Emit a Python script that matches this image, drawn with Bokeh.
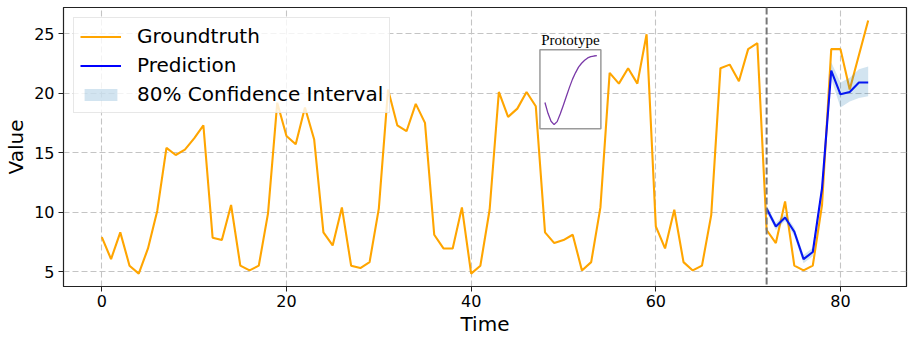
import numpy as np
from bokeh.plotting import figure
from bokeh.models import Span, Range1d, FixedTicker
from bokeh.core.properties import value
from bokeh.embed import file_html
from bokeh.resources import INLINE

# ---------------- data ----------------
time = list(range(84))
groundtruth = [7.9, 6.05, 8.3, 5.5, 4.83, 6.95, 10.1, 15.4, 14.8, 15.25,
               16.2, 17.3, 7.85, 7.65, 10.6, 5.5, 5.1, 5.5, 9.9, 19.2,
               16.4, 15.7, 18.8, 16.1, 8.3, 7.2, 10.4, 5.5, 5.3, 5.8,
               10.3, 20.3, 17.3, 16.8, 19.1, 17.5, 8.1, 6.95, 6.95, 10.4,
               4.83, 5.5, 10.2, 20.1, 18.0, 18.7, 20.1, 18.9, 8.3, 7.4,
               7.65, 8.1, 5.1, 5.8, 10.4, 21.7, 20.8, 22.1, 20.8, 24.95,
               8.8, 6.95, 10.2, 5.8, 5.1, 5.5, 9.75, 22.1, 22.4, 21.0,
               23.7, 24.2, 8.5, 7.4, 10.9, 5.5, 5.1, 5.5, 10.6, 23.7,
               23.7, 20.3, 23.2, 26.1]
pred_time = list(range(72, 84))
prediction = [10.3, 8.8, 9.55, 8.35, 6.05, 6.65, 12.0, 21.9, 19.9, 20.1, 20.9, 20.9]
ci_lower = [10.0, 8.5, 9.25, 8.0, 5.7, 6.3, 11.6, 21.2, 18.8, 19.3, 19.6, 19.75]
ci_upper = [10.6, 9.1, 9.85, 8.7, 6.4, 7.0, 12.4, 22.6, 20.9, 21.3, 22.0, 22.25]
forecast_start = 72
prototype = [0.32, 0.163, 0.048, 0.0, 0.043, 0.153, 0.278, 0.407, 0.536,
             0.656, 0.751, 0.833, 0.89, 0.933, 0.967, 0.986, 0.995, 1.0]
x_ticks = [0, 20, 40, 60, 80]
y_ticks = [5, 10, 15, 20, 25]

# ---------------- figure ----------------
p = figure(frame_width=843, frame_height=279, output_backend="svg", toolbar_location=None,
           x_range=Range1d(-4.15, 87.15), y_range=Range1d(3.75, 27.2),
           min_border_left=63, min_border_right=7, min_border_top=7,
           min_border_bottom=58)
p.background_fill_color = "white"
p.border_fill_color = "white"
p.outline_line_color = "#222222"
p.outline_line_width = 1.2

for ax in (p.xaxis, p.yaxis):
    ax.major_label_text_font = "DejaVu Sans"
    ax.major_label_text_font_size = "16px"
    ax.major_label_text_color = "black"
    ax.axis_label_text_font = "DejaVu Sans"
    ax.axis_label_text_font_size = "20px"
    ax.axis_label_text_font_style = "normal"
    ax.axis_label_text_color = "black"
    ax.minor_tick_line_color = None
    ax.major_tick_out = 5
    ax.major_tick_in = 0
    ax.major_tick_line_color = "#222222"
    ax.axis_line_color = "#222222"
p.xaxis.major_label_standoff = 3
p.yaxis.major_label_standoff = 4
p.xaxis.axis_label_standoff = 2
p.yaxis.axis_label_standoff = 3
p.xaxis.ticker = FixedTicker(ticks=x_ticks)
p.yaxis.ticker = FixedTicker(ticks=y_ticks)
p.xaxis.axis_label = "Time"
p.yaxis.axis_label = "Value"

for g in (p.xgrid, p.ygrid):
    g.grid_line_color = "#c4c4c4"
    g.grid_line_dash = "6 3"
    g.grid_line_width = 1.1

# ---------------- series ----------------
p.line(time, groundtruth, line_color="orange", line_width=2.1, legend_label="Groundtruth")
p.line(pred_time, prediction, line_color="blue", line_width=2.1, legend_label="Prediction")
p.varea(x=pred_time, y1=ci_lower, y2=ci_upper, fill_color="#1f77b4", fill_alpha=0.2,
        legend_label="80% Confidence Interval")

p.add_layout(Span(location=forecast_start, dimension="height", line_color="#777777",
                  line_dash="7 3", line_width=2))

# ---------------- prototype inset ----------------
box_x0, box_x1, box_y0, box_y1 = 47.45, 54.05, 17.0, 23.65
fx0, fx1, fy0, fy1 = 0.082, 0.934, 0.054, 0.925
n = len(prototype)
px = [box_x0 + (box_x1 - box_x0) * (fx0 + (fx1 - fx0) * i / (n - 1)) for i in range(n)]
py = [box_y0 + (box_y1 - box_y0) * (fy0 + (fy1 - fy0) * v) for v in prototype]
p.quad(left=[box_x0], right=[box_x1], bottom=[box_y0], top=[box_y1],
       fill_color="white", line_color="#9a9a9a", line_width=1.5)
p.line(px, py, line_color="#7a3aa8", line_width=1.3)
p.text(x=[(box_x0 + box_x1) / 2], y=[box_y1], text=["Prototype"],
       text_font=value("Liberation Serif"), text_font_size="15px",
       text_align="center", text_baseline="bottom", y_offset=-2, text_color="black")

# ---------------- legend ----------------
lg = p.legend[0]
lg.location = "top_left"
lg.margin = 10
lg.padding = 6
lg.spacing = 5
lg.label_text_font = "DejaVu Sans"
lg.label_text_font_size = "20px"
lg.label_text_color = "black"
lg.glyph_width = 41
lg.glyph_height = 15
lg.label_height = 24
lg.label_standoff = 16
lg.border_line_color = "#d0d0d0"
lg.border_line_width = 1
lg.background_fill_alpha = 0.8

open("out.html", "w").write(file_html(p, INLINE))
